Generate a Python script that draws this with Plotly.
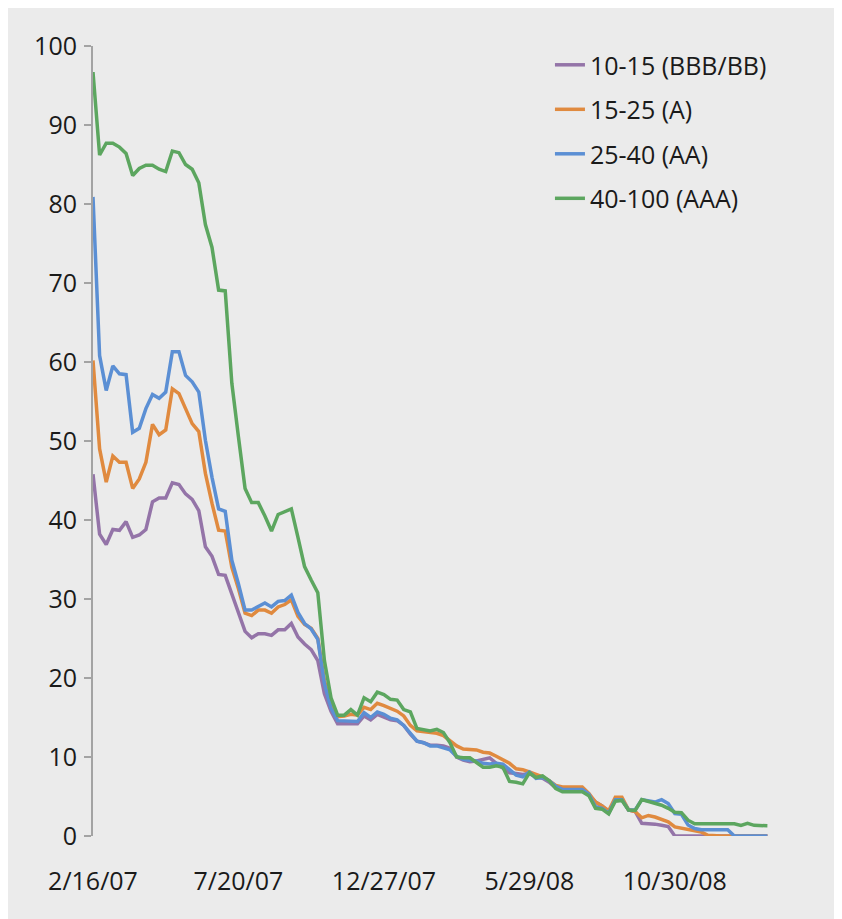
import plotly.graph_objects as go

# weekly observations, category axis (one point per week)
label_dates = ["2/16/07", "7/20/07", "12/27/07", "5/29/08", "10/30/08"]
label_every = 22      # a date label every 22 observations
tick_every = 4        # a tick mark every 4 observations

names = ["10-15 (BBB/BB)", "15-25 (A)", "25-40 (AA)", "40-100 (AAA)"]
colors = ["#9474A8", "#E08A3F", "#5B8FD4", "#5CA65F"]

bbb = [45.8, 38.2, 36.9, 38.8, 38.7, 39.8, 37.8, 38.1, 38.8, 42.3,
       42.8, 42.8, 44.7, 44.5, 43.3, 42.6, 41.2, 36.6, 35.4, 33.1,
       33.0, 30.7, 28.2, 25.9, 25.1, 25.6, 25.6, 25.4, 26.1, 26.1,
       26.9, 25.2, 24.3, 23.6, 22.2, 18.0, 15.8, 14.2, 14.2, 14.2,
       14.2, 15.2, 14.7, 15.4, 15.1, 14.7, 14.6, 14.0, 12.9, 12.0,
       11.8, 11.5, 11.5, 11.4, 11.1, 10.0, 9.6, 9.4, 9.5, 9.7,
       9.9, 9.2, 8.6, 8.0, 7.9, 7.8, 7.9, 7.5, 7.3, 6.8,
       6.1, 5.9, 5.9, 5.9, 5.9, 5.2, 4.3, 3.8, 3.0, 4.6,
       4.6, 3.3, 3.1, 1.6, 1.6, 1.5, 1.35, 1.2, 0, 0,
       0, 0, 0, 0, 0, 0, 0, 0, 0, 0,
       0, 0, 0]

single_a = [60.2, 49.0, 44.8, 48.1, 47.3, 47.3, 44.0, 45.2, 47.3, 52.1,
            50.8, 51.4, 56.6, 56.0, 54.1, 52.2, 51.2, 45.9, 42.1, 38.7,
            38.6, 34.0, 31.3, 28.2, 27.9, 28.6, 28.6, 28.2, 29.0, 29.3,
            29.9, 27.8, 26.8, 26.3, 25.0, 19.7, 16.6, 15.1, 15.2, 15.4,
            15.3, 16.3, 16.0, 16.8, 16.5, 16.2, 15.8, 15.2, 14.0, 13.3,
            13.2, 13.1, 13.0, 12.7, 12.1, 11.4, 11.0, 10.9, 10.9, 10.6,
            10.5, 10.1, 9.6, 9.2, 8.5, 8.4, 8.1, 7.8, 7.5, 7.0,
            6.4, 6.2, 6.2, 6.2, 6.2, 5.4, 4.3, 3.8, 3.2, 4.9,
            4.9, 3.3, 3.1, 2.3, 2.6, 2.4, 2.1, 1.8, 1.15, 1.0,
            0.8, 0.6, 0.5, 0.1, 0, 0, 0, 0, 0, 0,
            0, 0, 0]

double_a = [80.9, 60.8, 56.4, 59.5, 58.5, 58.4, 51.1, 51.6, 54.1, 55.9,
            55.4, 56.2, 61.3, 61.3, 58.3, 57.5, 56.2, 50.1, 45.4, 41.4,
            41.1, 34.9, 31.9, 28.6, 28.6, 29.1, 29.5, 29.0, 29.7, 29.8,
            30.5, 28.3, 26.9, 26.2, 24.9, 19.3, 16.2, 14.6, 14.6, 14.6,
            14.5, 15.6, 15.0, 15.7, 15.4, 14.9, 14.7, 14.0, 13.0, 12.0,
            11.8, 11.4, 11.4, 11.2, 10.9, 10.1, 9.7, 9.6, 9.5, 9.2,
            9.1, 9.2, 9.1, 8.4, 7.7, 7.5, 8.1, 7.3, 7.4, 7.0,
            6.3, 5.9, 5.9, 5.9, 5.9, 5.3, 3.7, 3.5, 2.9, 4.6,
            4.6, 3.3, 3.3, 4.6, 4.5, 4.3, 4.6, 4.1, 2.85, 2.75,
            1.4, 0.95, 0.8, 0.8, 0.8, 0.8, 0.8, 0, 0, 0,
            0, 0, 0]

triple_a = [96.7, 86.2, 87.7, 87.7, 87.2, 86.4, 83.6, 84.5, 84.9, 84.9,
            84.4, 84.1, 86.7, 86.5, 85.0, 84.4, 82.7, 77.4, 74.5, 69.1,
            69.0, 57.3, 50.5, 44.0, 42.2, 42.2, 40.5, 38.6, 40.7, 41.1,
            41.4, 37.8, 34.1, 32.4, 30.8, 22.2, 17.5, 15.3, 15.3, 16.0,
            15.3, 17.5, 17.0, 18.2, 17.9, 17.3, 17.2, 16.0, 15.7, 13.6,
            13.5, 13.3, 13.5, 13.1, 11.8, 10.0, 9.9, 9.9, 9.3, 8.7,
            8.7, 8.9, 8.7, 6.9, 6.8, 6.6, 8.0, 7.4, 7.6, 7.0,
            6.0, 5.6, 5.6, 5.6, 5.6, 5.1, 3.5, 3.4, 2.8, 4.4,
            4.5, 3.3, 3.25, 4.6, 4.4, 4.15, 3.9, 3.5, 3.0, 2.95,
            2.0, 1.56, 1.56, 1.56, 1.56, 1.56, 1.56, 1.56, 1.35, 1.6,
            1.35, 1.3, 1.3]

series = [bbb, single_a, double_a, triple_a]
n = len(bbb)
x = list(range(n))

AXIS = "#A3A3A3"
BG = "#EBEBEB"

fig = go.Figure()
for name, vals, col in zip(names, series, colors):
    fig.add_trace(go.Scatter(
        x=x, y=vals, name=name, mode="lines",
        legendgroup=name,
        line=dict(color=col, width=3.5),
        xaxis="x2",
    ))

# page body has an 8px margin, so the figure is a bit smaller than the window
fig.update_layout(
    width=834, height=911,
    paper_bgcolor=BG, plot_bgcolor=BG,
    margin=dict(l=85, r=68, t=38, b=83),
    font=dict(family="Open Sans", size=25, color="#1a1a1a"),
    showlegend=True,
    legend=dict(
        x=0.671, y=1.005, xanchor="left", yanchor="top",
        bgcolor="rgba(0,0,0,0)", tracegroupgap=9,
        font=dict(size=25),
    ),
    # tick marks only
    xaxis=dict(
        range=[0, n], tickvals=list(range(0, n, tick_every)),
        showticklabels=False, ticks="outside", ticklen=9, tickwidth=2,
        tickcolor=AXIS, showline=True, linecolor=AXIS, linewidth=2,
        showgrid=False, zeroline=False,
    ),
    # date labels
    xaxis2=dict(
        overlaying="x", matches="x", anchor="y", side="bottom",
        tickvals=list(range(0, n, label_every))[:len(label_dates)],
        ticktext=label_dates, ticks="", showline=False,
        showgrid=False, zeroline=False, ticklabelstandoff=28,
    ),
    yaxis=dict(
        range=[0, 100], tickvals=list(range(0, 101, 10)),
        ticks="outside", ticklen=7, tickwidth=2, tickcolor=AXIS,
        showline=True, linecolor=AXIS, linewidth=2,
        showgrid=False, zeroline=False, ticklabelstandoff=2,
    ),
)

fig.write_html("out.html")
